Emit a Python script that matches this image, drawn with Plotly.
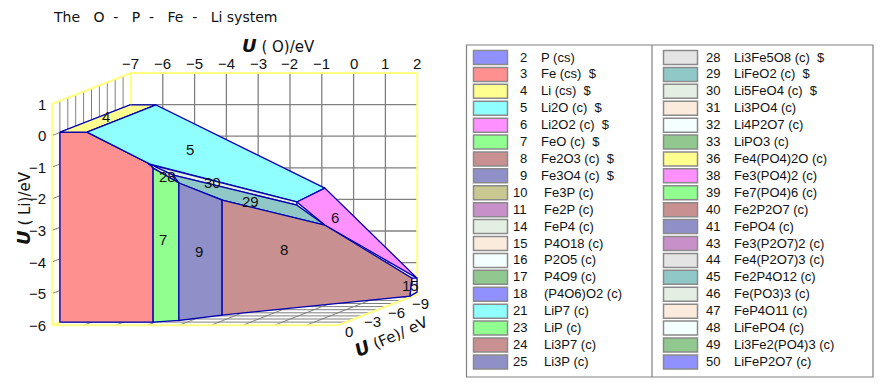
import plotly.graph_objects as go

W, H = 882, 390
FONT = "Liberation Sans"
WIDE = "DejaVu Sans"

# ---- data ----
TITLE = "The\u00a0\u00a0\u00a0O\u00a0\u00a0-\u00a0\u00a0\u00a0P\u00a0\u00a0-\u00a0\u00a0\u00a0Fe\u00a0\u00a0-\u00a0\u00a0\u00a0Li\u00a0system"
O_TICKS = [-7, -6, -5, -4, -3, -2, -1, 0, 1, 2]
LI_TICKS = [1, 0, -1, -2, -3, -4, -5, -6]
FE_TICKS = [0, -3, -6, -9]
FE_GRID = [0, -1, -2, -3, -4, -5, -6, -7, -8, -9, -10]

# Region outlines as read on the front plane: (U(O), U(Li))
R3 = [(-6.75, .11), (-5.90, .11), (-3.92, -.90), (-3.82, -1.03), (-3.82, -5.90), (-6.75, -5.90)]
R4 = [(-6.75, .11), (-4.55, .97), (-3.73, .97), (-5.90, .11)]
R5 = [(-5.90, .11), (-3.73, .97), (1.58, -1.66), (.70, -2.10), (-3.92, -.90)]
R30 = [(-3.98, -.90), (.70, -2.10), (.70, -2.20), (-3.19, -1.25)]
R28 = [(-3.92, -.90), (-3.19, -1.25), (-3.01, -1.50), (-3.82, -1.03)]
R29 = [(-3.19, -1.25), (.70, -2.20), (1.58, -2.83), (-1.65, -2.04), (-3.01, -1.50)]
R7 = [(-3.82, -1.03), (-3.01, -1.50), (-3.01, -5.85), (-3.67, -5.90), (-3.82, -5.90)]
R9 = [(-3.01, -1.50), (-1.65, -2.04), (-1.65, -5.68), (-3.01, -5.85)]
R8 = [(-1.65, -2.04), (1.58, -2.83), (4.32, -4.51), (4.26, -5.08), (-1.65, -5.68)]
R6 = [(.70, -2.10), (1.58, -1.66), (4.48, -4.51), (1.58, -2.83)]
R15 = [(4.32, -4.51), (4.48, -4.51), (4.48, -4.95), (4.26, -5.08)]

REGIONS = [(3, R3), (4, R4), (5, R5), (30, R30), (28, R28), (29, R29),
           (7, R7), (9, R9), (8, R8), (6, R6), (15, R15)]
REGION_LABELS = [(4, -5.31, .60), (5, -2.66, -.45), (28, -3.38, -1.30), (30, -1.94, -1.49),
                 (29, -.77, -2.09), (6, 1.90, -2.60), (7, -3.51, -3.29), (9, -2.38, -3.67),
                 (8, .30, -3.61), (15, 4.26, -4.75)]

IDS_1 = [2, 3, 4, 5, 6, 7, 8, 9, 10, 11, 14, 15, 16, 17, 18, 21, 23, 24, 25]
NAMES_1 = ["P (cs)", "Fe (cs)  $", "Li (cs)  $", "Li2O (c)  $", "Li2O2 (c)  $", "FeO (c)  $",
           "Fe2O3 (c)  $", "Fe3O4 (c)  $", "Fe3P (c)", "Fe2P (c)", "FeP4 (c)", "P4O18 (c)",
           "P2O5 (c)", "P4O9 (c)", "(P4O6)O2 (c)", "LiP7 (c)", "LiP (c)", "Li3P7 (c)", "Li3P (c)"]
IDS_2 = [28, 29, 30, 31, 32, 33, 36, 38, 39, 40, 41, 43, 44, 45, 46, 47, 48, 49, 50]
NAMES_2 = ["Li3Fe5O8 (c)  $", "LiFeO2 (c)  $", "Li5FeO4 (c)  $", "Li3PO4 (c)", "Li4P2O7 (c)",
           "LiPO3 (c)", "Fe4(PO4)2O (c)", "Fe3(PO4)2 (c)", "Fe7(PO4)6 (c)", "Fe2P2O7 (c)",
           "FePO4 (c)", "Fe3(P2O7)2 (c)", "Fe4(P2O7)3 (c)", "Fe2P4O12 (c)", "Fe(PO3)3 (c)",
           "FeP4O11 (c)", "LiFePO4 (c)", "Li3Fe2(PO4)3 (c)", "LiFeP2O7 (c)"]

COLORS = {2: "#9090FF", 3: "#FF9090", 4: "#FFFF90", 5: "#90FFFF", 6: "#FF90FF", 7: "#90FF90",
          8: "#C89090", 9: "#9090C8", 10: "#C8C890", 11: "#C890C8", 14: "#E4EFE4", 15: "#FAEBDC",
          16: "#F4FFFF", 17: "#90C890", 18: "#9090FF", 21: "#90FFFF", 23: "#90FF90", 24: "#C89090",
          25: "#9090C8", 28: "#E4E4E4", 29: "#90C8C8", 30: "#E4EFE4", 31: "#FAEBDC", 32: "#F4FFFF",
          33: "#90C890", 36: "#FFFF90", 38: "#FF90FF", 39: "#90FF90", 40: "#C89090", 41: "#9090C8",
          43: "#C890C8", 44: "#E4E4E4", 45: "#90C8C8", 46: "#E4EFE4", 47: "#FAEBDC", 48: "#F4FFFF",
          49: "#90C890", 50: "#9090FF"}

# ---- geometry of the oblique view ----
SX, SY = 31.8, 31.6
X0, Y0 = 52, 104
XMIN = -7 - X0 / SX
YMAX = 1 + Y0 / SY
DX, DY = 0.2484, 0.0981   # shift per unit of -U(Fe)


def project(o, li, fe=0):
    return o - fe * DX, li - fe * DY


def seg(fig, a, b, color, width):
    p, q = project(*a), project(*b)
    fig.add_trace(go.Scatter(x=[p[0], q[0]], y=[p[1], q[1]], mode="lines", hoverinfo="skip",
                             line=dict(color=color, width=width), showlegend=False))


def px(x):
    return x / W


def py(y):
    return 1 - y / H


fig = go.Figure()
GRID, AXIS, EDGE = "#808080", "#FFFF80", "#0000B0"
O0, O1, L0, L1, F1 = -7, 2, -6, 1, -10

# back wall
for o in O_TICKS[1:-1]:
    seg(fig, (o, L0, F1), (o, L1, F1), GRID, 1.3)
for li in LI_TICKS[1:]:
    seg(fig, (O0, li, F1), (O1, li, F1), GRID, 1.3)
# left wall and floor
for f in FE_GRID[1:-1]:
    seg(fig, (O0, L0, f), (O0, L1, f), GRID, 1)
    seg(fig, (O0, L0, f), (O1, L0, f), GRID, 1)
for li in LI_TICKS[1:-1]:
    seg(fig, (O0, li, 0), (O0, li, F1), GRID, 1)
for o in O_TICKS[1:-1]:
    seg(fig, (o, L0, 0), (o, L0, F1), GRID, 1)
# yellow frame
for a, b in [((O0, L0, 0), (O0, L1, 0)), ((O0, L1, 0), (O0, L1, F1)), ((O0, L1, F1), (O1, L1, F1)),
             ((O1, L1, F1), (O1, L0, F1)), ((O0, L1, F1), (O0, L0, F1)), ((O0, L0, 0), (O1, L0, 0)),
             ((O1, L0, 0), (O1, L0, F1)), ((O0, L0, 0), (O0, L0, F1))]:
    seg(fig, a, b, AXIS, 2)

# regions
for rid, pts in REGIONS:
    xs = [p[0] for p in pts] + [pts[0][0]]
    ys = [p[1] for p in pts] + [pts[0][1]]
    fig.add_trace(go.Scatter(x=xs, y=ys, mode="lines", fill="toself", fillcolor=COLORS[rid],
                             line=dict(color=EDGE, width=1.3), hoverinfo="skip", showlegend=False))

ann = []


def text(x, y, s, size=13, xanchor="center", angle=0, paper=False, family=FONT):
    ann.append(dict(x=x, y=y, text=s, showarrow=False, xanchor=xanchor, yanchor="middle", textangle=angle,
                    xref="paper" if paper else "x", yref="paper" if paper else "y",
                    font=dict(family=family, size=size, color="#111111"), borderpad=0))


for rid, x, y in REGION_LABELS:
    text(x, y, str(rid), size=15)

# tick labels
TOP_Y = project(0, L1, F1)[1] + 10 / SY
for o in O_TICKS:
    x = project(o, L1, F1)[0]
    text(x, TOP_Y, str(o).replace("-", "\u2212"), size=15)
for li in LI_TICKS:
    text(-7 - 5 / SX, li, str(li).replace("-", "\u2212"), size=15, xanchor="right")
for f in FE_TICKS:
    x, y = project(O1, L0, f)
    text(x + 11 / SX, y - 6 / SY, str(f).replace("-", "\u2212"), size=15)

# axis titles
U = "<b><i><span style='font-size:18px'>U</span></i></b>"
text(px(278), py(45), U + " ( O)/eV", size=15, paper=True, family=WIDE)
text(px(23), py(208), U + " ( Li)/eV", size=15, angle=-90, paper=True, family=WIDE)
text(px(391), py(335), U + " (Fe)/ eV", size=15, angle=-24, paper=True, family=WIDE)
text(px(52), py(17), TITLE, size=14, xanchor="left", paper=True, family=WIDE)

# key
shapes = [dict(type="rect", xref="paper", yref="paper", x0=px(466.5), x1=px(873), y0=py(45), y1=py(377),
               line=dict(color="#808080", width=1.2), fillcolor="rgba(0,0,0,0)"),
          dict(type="line", xref="paper", yref="paper", x0=px(652), x1=px(652), y0=py(45), y1=py(377),
               line=dict(color="#808080", width=1.2))]
for ids, names, sx, nx, tx1, tx2 in [(IDS_1, NAMES_1, 473.5, 528, 540, 543),
                                     (IDS_2, NAMES_2, 663.5, 721, 733, 733)]:
    for k, (i, n) in enumerate(zip(ids, names)):
        yc = 57.5 + 16.91 * k
        shapes.append(dict(type="rect", xref="paper", yref="paper", x0=px(sx), x1=px(sx + 34),
                           y0=py(yc - 7), y1=py(yc + 7), fillcolor=COLORS[i],
                           line=dict(color="#8a8a8a", width=1.5)))
        text(px(nx), py(yc - 0.5), str(i), xanchor="right", paper=True)
        text(px(tx1 if i < 10 else tx2), py(yc - 0.5), n, xanchor="left", paper=True)

fig.update_layout(
    width=W, height=H, margin=dict(l=0, r=0, t=0, b=0), autosize=False,
    paper_bgcolor="white", plot_bgcolor="white", showlegend=False,
    xaxis=dict(range=[XMIN, XMIN + W / SX], visible=False, fixedrange=True),
    yaxis=dict(range=[YMAX - H / SY, YMAX], visible=False, fixedrange=True),
    annotations=ann, shapes=shapes,
)
fig.write_html("out.html", post_script="document.body.style.margin='0';window.dispatchEvent(new Event('resize'));",
               config={"displayModeBar": False})
